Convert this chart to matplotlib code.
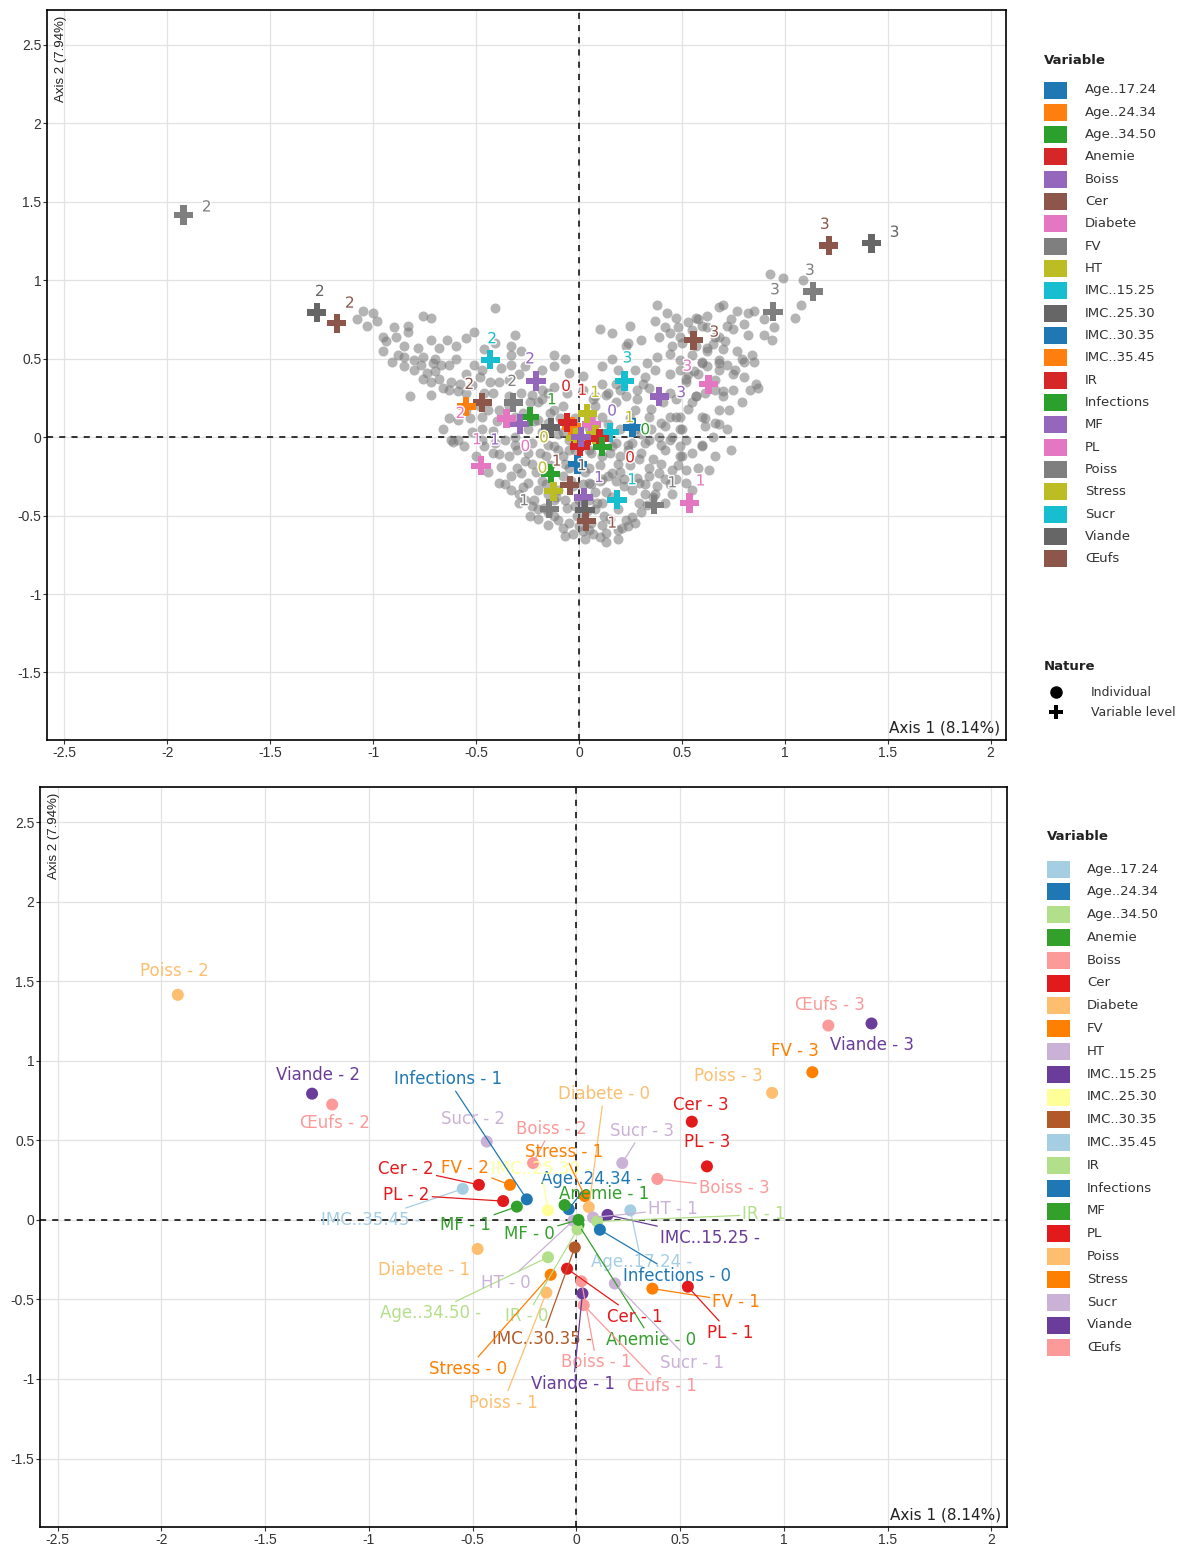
import math
import matplotlib
matplotlib.use("Agg")
import matplotlib.pyplot as plt
import matplotlib.patheffects as pe
from matplotlib.patches import Rectangle
from matplotlib.lines import Line2D
from matplotlib.text import Text
import numpy as np

plt.rcParams['font.family'] = ['Liberation Sans', 'DejaVu Sans']
WIDE = ['DejaVu Sans']

W, H = 1194, 1547

# --- variables and their palettes (top: individuals + levels, bottom: levels only)
variables = ['Age..17.24', 'Age..24.34', 'Age..34.50', 'Anemie', 'Boiss', 'Cer',
             'Diabete', 'FV', 'HT', 'IMC..15.25', 'IMC..25.30', 'IMC..30.35',
             'IMC..35.45', 'IR', 'Infections', 'MF', 'PL', 'Poiss', 'Stress',
             'Sucr', 'Viande', 'Œufs']
top_colors = ['#1F77B4', '#FF7F0E', '#2CA02C', '#D62728', '#9467BD', '#8C564B',
              '#E377C2', '#7F7F7F', '#BCBD22', '#17BECF', '#666666', '#1F77B4',
              '#FF7F0E', '#D62728', '#2CA02C', '#9467BD', '#E377C2', '#7F7F7F',
              '#BCBD22', '#17BECF', '#666666', '#8C564B']
bot_colors = ['#A6CEE3', '#1F78B4', '#B2DF8A', '#33A02C', '#FB9A99', '#E31A1C',
              '#FDBF6F', '#FF7F00', '#CAB2D6', '#6A3D9A', '#FFFF99', '#B15928',
              '#A6CEE3', '#B2DF8A', '#1F78B4', '#33A02C', '#E31A1C', '#FDBF6F',
              '#FF7F00', '#CAB2D6', '#6A3D9A', '#FB9A99']

# --- variable levels (coordinates on axes 1 and 2)
lev_var = ['Age..17.24', 'Age..24.34', 'Age..34.50', 'Anemie', 'Anemie',
           'Boiss', 'Boiss', 'Boiss', 'Cer', 'Cer', 'Cer', 'Diabete', 'Diabete',
           'FV', 'FV', 'FV', 'HT', 'HT', 'IMC..15.25', 'IMC..25.30', 'IMC..30.35',
           'IMC..35.45', 'IR', 'IR', 'Infections', 'Infections', 'MF', 'MF',
           'PL', 'PL', 'PL', 'Poiss', 'Poiss', 'Poiss', 'Stress', 'Stress',
           'Sucr', 'Sucr', 'Sucr', 'Viande', 'Viande', 'Viande', 'Œufs', 'Œufs', 'Œufs']
lev_code = ['', '', '', '0', '1',
            '1', '2', '3', '1', '2', '3', '0', '1',
            '1', '2', '3', '0', '1', '', '', '',
            '', '0', '1', '0', '1', '0', '1',
            '1', '2', '3', '1', '2', '3', '0', '1',
            '1', '2', '3', '1', '2', '3', '1', '2', '3']
lev_x = [0.26, -0.037, -0.137, 0.01, -0.057,
         0.024, -0.209, 0.39, -0.045, -0.47, 0.556, 0.06, -0.476,
         0.366, -0.32, 1.137, -0.015, 0.08, 0.15, -0.137, -0.008,
         -0.548, 0.005, 0.10, 0.113, -0.239, 0.01, -0.287,
         0.537, -0.353, 0.629, -0.145, -1.921, 0.943, -0.124, 0.04,
         0.185, -0.432, 0.221, 0.029, -1.274, 1.422, 0.035, -1.177, 1.214]
lev_y = [0.06, 0.067, -0.235, -0.03, 0.093,
         -0.386, 0.357, 0.257, -0.307, 0.22, 0.617, 0.08, -0.183,
         -0.432, 0.22, 0.928, -0.005, 0.015, 0.031, 0.06, -0.173,
         0.195, -0.06, -0.01, -0.062, 0.129, 0.0, 0.083,
         -0.42, 0.118, 0.336, -0.457, 1.414, 0.798, -0.345, 0.15,
         -0.40, 0.492, 0.357, -0.463, 0.793, 1.234, -0.536, 0.725, 1.221]

# --- individuals
ind_x = [
    # left wing
    -1.05, -1.00, -1.03, -0.98, -0.76, -0.72, -0.83, -0.83, -0.95, -0.89,
    -0.94, -0.85, -0.78, -0.72, -0.68, -0.64, -0.55, -0.51, -0.41, -0.31,
    -0.33, -0.33, -0.91, -0.85, -0.80, -0.76, -0.85, -0.77, -0.71, -0.67,
    -0.63, -0.51, -0.80, -0.74, -0.76, -0.72, -0.68, -0.62, -0.58, -0.43,
    -0.39, -0.33, -0.29, -0.82, -0.72, -0.63, -0.59, -0.55, -0.46, -0.42,
    -0.63, -0.59, -0.44, -0.39, -0.34, -0.31, -0.62, -0.47, -0.42,
    -0.95, -0.88, -0.70, -0.60, -0.55, -0.48, -0.52, -0.66, -0.70, -0.90,
    -1.08, -0.60, -0.46, -0.48, -0.53, -0.38, -0.34,
    # upper middle / right
    0.10, 0.25, 0.30, 0.38, 0.43, 0.47, 0.37, 0.42, 0.48, 0.57,
    0.60, 0.62, 0.39, 0.44, 0.49, 0.57, 0.62, 0.68, 0.68, 0.23,
    0.16, 0.33, 0.38, 0.44, 0.49, 0.55, 0.60, 0.68, -0.12, -0.07,
    0.19, 0.27, 0.32, 0.44, 0.49, 0.53, 0.52, 0.28, 0.34, 0.23,
    0.28, 0.35, 0.41, 0.47, 0.57, 0.61, 0.66, 0.44, 0.49, 0.53,
    0.61, 0.68, 0.42, 0.61, 0.68, 0.13, 0.07, -0.23, -0.18, -0.18,
    # right wing
    0.93, 0.99, 1.09, 1.08, 1.05, 0.70, 0.77, 0.82, 0.85, 0.58,
    0.53, 0.72, 0.75, 0.82, 0.90, 0.94, 0.66, 0.71, 0.65, 0.62,
    0.70, 0.77, 0.84, 0.79, 0.80, 0.85, 0.60, 0.68, 0.72, 0.75,
    0.68, 0.56, 0.87, 0.70, 0.57, 0.52,
    0.74, 0.80, 0.90, 0.95, 0.62, 0.55, 0.50, 0.45, 0.58, 0.62,
    0.75, 0.80, 0.66, 0.72, 0.65, 0.60,
    # lower blob
    -0.61, -0.46, -0.39, -0.34, -0.38, -0.33, -0.28, -0.23, -0.25, -0.20,
    -0.18, -0.15, -0.08, -0.10, -0.03, -0.07, -0.02, 0.05, 0.08, 0.11,
    0.16, 0.19, 0.23, 0.26, 0.24, 0.19, 0.13, 0.10, 0.05, 0.00,
    -0.05, -0.10, -0.15, -0.20, -0.23, -0.26, -0.29, 0.06, 0.29, 0.32,
    0.29, 0.34, 0.39, 0.42, 0.45, 0.40, 0.36, 0.42, 0.49, 0.52,
    0.49, 0.29, 0.24, 0.19, 0.16, 0.26, 0.32, 0.39, 0.27, 0.45,
    0.49, -0.07, 0.03, 0.19, 0.13, 0.42, 0.45, 0.52, 0.26, 0.22,
    0.16, 0.11, 0.05, -0.07, -0.10, -0.16, -0.23, -0.31, -0.33, -0.39,
    -0.30, -0.27, -0.22, -0.17, -0.12, -0.08, -0.03, 0.02, 0.07, 0.11,
    0.15, 0.21, 0.27, 0.30, 0.33, 0.36, 0.38, 0.34, 0.30, 0.25,
    0.22, 0.18, 0.13, 0.09, 0.04, -0.01, -0.06, -0.11, -0.16, -0.21,
    -0.26, -0.31, -0.36, -0.42, -0.47, -0.52, -0.56, -0.44, -0.36, -0.29,
    -0.24, -0.15, 0.00, 0.06, 0.10, 0.14, 0.20, 0.24, 0.28, 0.32,
    0.44, 0.48, 0.55, 0.58, 0.52, 0.40, 0.35, 0.30, 0.20, 0.14,
    0.06, -0.03, -0.09, -0.14, -0.22, -0.27, -0.24, -0.12, -0.06, 0.02,
    0.08, 0.14, 0.06, -0.02, -0.08, -0.14, -0.19, 0.03, -0.04, 0.10,
    # centre
    -0.18, -0.15, -0.20, -0.12, -0.15, -0.20, -0.25, -0.18, -0.08, -0.12,
    -0.05, 0.05, 0.11, 0.18, 0.11, 0.18, 0.20, 0.27, 0.34, 0.40,
    0.47, 0.50, 0.44, 0.34, 0.08, 0.11, 0.02, -0.05, -0.12, 0.11,
    0.18, 0.31, 0.37, 0.44, 0.55, 0.60, 0.66, 0.73, 0.70, 0.79,
    0.83, 0.86, 0.76, 0.66, 0.60, 0.74, 0.63, 0.50, 0.47, 0.37,
    0.55, -0.30, -0.41, -0.50, -0.59, -0.66, -0.55, -0.47, -0.40, -0.34,
    -0.28, -0.26, -0.28, -0.41, -0.47, 0.24, 0.16, 0.00, 0.05, -0.05,
    0.10, -0.10, 0.00, 0.05, -0.05, 0.15, -0.15, 0.02, -0.02, 0.08,
    -0.12, 0.12, -0.20, 0.20, -0.25, 0.25, -0.08,
]
ind_y = [
    0.80, 0.79, 0.71, 0.74, 0.77, 0.76, 0.71, 0.67, 0.64, 0.64,
    0.61, 0.58, 0.57, 0.62, 0.57, 0.62, 0.63, 0.67, 0.82, 0.65,
    0.58, 0.52, 0.48, 0.51, 0.49, 0.51, 0.45, 0.46, 0.47, 0.46,
    0.46, 0.46, 0.43, 0.41, 0.37, 0.35, 0.37, 0.35, 0.34, 0.35,
    0.35, 0.46, 0.40, 0.26, 0.27, 0.30, 0.29, 0.28, 0.28, 0.28,
    0.12, 0.11, 0.17, 0.17, 0.20, 0.13, -0.02, 0.05, 0.04,
    0.55, 0.52, 0.50, 0.50, 0.40, 0.38, 0.33, 0.31, 0.42, 0.70,
    0.75, 0.58, 0.56, 0.20, 0.12, 0.44, 0.36,
    0.69, 0.71, 0.62, 0.84, 0.79, 0.76, 0.74, 0.70, 0.70, 0.76,
    0.71, 0.77, 0.64, 0.66, 0.64, 0.58, 0.57, 0.64, 0.83, 0.58,
    0.50, 0.47, 0.51, 0.53, 0.49, 0.52, 0.47, 0.49, 0.52, 0.50,
    0.43, 0.43, 0.38, 0.40, 0.43, 0.40, 0.35, 0.30, 0.31, 0.26,
    0.24, 0.18, 0.22, 0.24, 0.26, 0.28, 0.30, 0.13, 0.13, 0.18,
    0.12, 0.17, 0.07, 0.07, 0.08, 0.27, 0.24, 0.27, 0.24, 0.30,
    1.04, 1.01, 1.00, 0.84, 0.76, 0.84, 0.80, 0.79, 0.80, 0.75,
    0.73, 0.71, 0.69, 0.65, 0.65, 0.62, 0.64, 0.61, 0.59, 0.55,
    0.56, 0.55, 0.52, 0.50, 0.48, 0.48, 0.48, 0.47, 0.46, 0.40,
    0.43, 0.42, 0.31, 0.29, 0.26, 0.37,
    0.75, 0.72, 0.75, 0.70, 0.70, 0.68, 0.60, 0.58, 0.40, 0.45,
    0.30, 0.38, 0.36, 0.05, 0.00, -0.05,
    -0.03, -0.06, -0.11, -0.12, -0.19, -0.25, -0.23, -0.17, -0.29, -0.34,
    -0.28, -0.36, -0.25, -0.34, -0.31, -0.40, -0.44, -0.40, -0.46, -0.42,
    -0.38, -0.46, -0.53, -0.51, -0.57, -0.59, -0.61, -0.64, -0.59, -0.57,
    -0.55, -0.53, -0.48, -0.46, -0.44, -0.40, -0.36, -0.55, -0.42, -0.36,
    -0.29, -0.25, -0.23, -0.27, -0.21, -0.17, -0.14, -0.08, -0.12, -0.21,
    -0.06, -0.14, -0.08, -0.17, -0.06, -0.04, -0.04, 0.00, 0.05, 0.00,
    0.05, -0.63, -0.65, -0.65, -0.67, -0.42, -0.36, -0.29, -0.34, -0.27,
    -0.23, -0.27, -0.29, -0.17, -0.08, -0.12, -0.04, 0.00, -0.34, -0.29,
    -0.20, -0.32, -0.40, -0.45, -0.50, -0.58, -0.62, -0.60, -0.62, -0.56,
    -0.52, -0.58, -0.55, -0.48, -0.43, -0.38, -0.31, -0.20, -0.10, -0.18,
    -0.31, -0.28, -0.35, -0.42, -0.47, -0.50, -0.45, -0.38, -0.30, -0.22,
    -0.15, -0.05, -0.02, -0.10, -0.02, 0.03, -0.06, -0.22, -0.30, -0.42,
    -0.50, -0.56, -0.40, -0.30, -0.18, -0.25, -0.12, -0.05, -0.26, -0.30,
    -0.30, -0.18, -0.10, -0.20, -0.02, -0.05, 0.05, 0.02, 0.05, 0.08,
    0.12, 0.08, 0.12, 0.15, 0.10, 0.15, 0.22, 0.32, 0.28, 0.30,
    0.20, 0.28, -0.10, -0.08, -0.12, -0.18, -0.10, -0.22, -0.28, -0.28,
    0.43, 0.28, 0.22, 0.17, 0.09, 0.11, 0.05, 0.03, 0.03, -0.06,
    -0.08, -0.08, -0.12, -0.04, 0.13, 0.22, 0.30, 0.17, 0.13, 0.09,
    0.13, 0.05, -0.02, -0.02, 0.26, 0.34, 0.39, 0.41, 0.45, 0.45,
    0.34, 0.34, 0.43, 0.28, 0.22, 0.13, 0.09, 0.17, 0.26, 0.22,
    0.30, 0.34, 0.43, -0.12, -0.06, -0.08, -0.21, -0.12, -0.27, -0.36,
    -0.34, -0.08, -0.04, -0.12, -0.02, 0.05, 0.17, 0.13, 0.10, 0.26,
    0.28, 0.45, 0.55, 0.60, 0.43, 0.60, 0.66, 0.02, 0.06, -0.02,
    0.01, 0.02, -0.15, -0.20, -0.20, -0.10, -0.05, -0.30, 0.12, -0.35,
    -0.40, -0.50, -0.52, -0.22, -0.10, 0.12, 0.20,
]

# label placement (pixel offsets from the point, ggrepel-like)
top_lab_off = {
    'Poiss - 2': (23, 8), 'Viande - 2': (3, 21), 'Œufs - 2': (13, 20),
    'Œufs - 3': (-4, 21), 'Viande - 3': (23, 11), 'FV - 3': (-3, 21),
    'Poiss - 3': (2, 22), 'Cer - 3': (21, 8), 'PL - 3': (-21, 18),
    'Boiss - 3': (22, 4), 'Sucr - 3': (3, 23), 'Sucr - 2': (2, 21),
    'Boiss - 2': (-6, 22), 'FV - 2': (-1, 21), 'Cer - 2': (-13, 18),
    'PL - 2': (-46, 5), 'MF - 1': (-25, -16), 'Infections - 1': (22, 17),
    'IR - 0': (-14, 60), 'Anemie - 1': (15, 32), 'Stress - 1': (8, 21),
    'MF - 0': (31, 26), 'HT - 1': (34, 17), 'Infections - 0': (43, 17),
    'Boiss - 1': (15, 20), 'Cer - 1': (-13, 24), 'HT - 0': (-32, 0),
    'Stress - 0': (-11, 23), 'Viande - 1': (-3, 44), 'Œufs - 1': (26, -2),
    'Diabete - 0': (-66, -22), 'Anemie - 0': (49, -16), 'Diabete - 1': (-4, 26),
    'PL - 1': (11, 22), 'FV - 1': (18, 22), 'Sucr - 1': (15, 20),
    'Poiss - 1': (-25, 8),
}
bot_lab_off = {
    'Poiss - 2': (-3, 24), 'Viande - 2': (6, 19), 'Œufs - 2': (3, -19),
    'Œufs - 3': (2, 21), 'Viande - 3': (1, -22), 'FV - 3': (-17, 21),
    'Poiss - 3': (-44, 17), 'Cer - 3': (9, 17), 'PL - 3': (0, 24),
    'Boiss - 3': (77, -9), 'Sucr - 3': (20, 32), 'Sucr - 2': (-14, 23),
    'Boiss - 2': (18, 34), 'Infections - 1': (-79, 120), 'Diabete - 0': (15, 113),
    'Stress - 1': (-21, 44), 'IMC..25.30 -': (-7, 41), 'Cer - 2': (-73, 16),
    'FV - 2': (-45, 17), 'PL - 2': (-97, 6), 'IMC..35.45 -': (-92, -31),
    'MF - 1': (-51, -18), 'MF - 0': (-49, -14), 'Age..24.34 -': (23, 30),
    'Anemie - 1': (40, 11), 'HT - 1': (80, 8), 'IR - 1': (167, 7),
    'IMC..15.25 -': (102, -23), 'Age..17.24 -': (11, -52),
    'Infections - 0': (77, -46), 'Diabete - 1': (-54, -21), 'HT - 0': (-67, -62),
    'Age..34.50 -': (-117, -56), 'IR - 0': (-51, -87), 'Cer - 1': (68, -48),
    'FV - 1': (84, -13), 'PL - 1': (42, -46), 'IMC..30.35 -': (-33, -92),
    'Anemie - 0': (73, -115), 'Boiss - 1': (15, -81), 'Sucr - 1': (77, -79),
    'Stress - 0': (-83, -94), 'Viande - 1': (-9, -90), 'Œufs - 1': (78, -81),
    'Poiss - 1': (-43, -110),
}

top_col = dict(zip(variables, top_colors))
bot_col = dict(zip(variables, bot_colors))
labels = [(v + ' - ' + c).rstrip() for v, c in zip(lev_var, lev_code)]


def setup_axes(ax):
    ax.set_xlim(-2.585, 2.075)
    ax.set_ylim(-1.93, 2.72)
    xt = np.arange(-2.5, 2.01, 0.5)
    yt = np.arange(-1.5, 2.51, 0.5)
    ax.set_xticks(xt)
    ax.set_yticks(yt)
    ax.set_xticklabels([f'{v:g}' for v in xt])
    ax.set_yticklabels([f'{v:g}' for v in yt])
    ax.grid(color='#e2e2e2', lw=0.9)
    ax.set_axisbelow(True)
    ax.axhline(0, color='black', lw=1.1, ls=(0, (4, 4)), zorder=1)
    ax.axvline(0, color='black', lw=1.1, ls=(0, (4, 4)), zorder=1)
    for s in ax.spines.values():
        s.set_linewidth(1.2)
        s.set_color('black')
    ax.tick_params(length=3, width=0.8, pad=1, labelsize=10, colors='#333333')
    ax.text(0.994, 0.006, 'Axis 1 (8.14%)', transform=ax.transAxes, family=WIDE,
            ha='right', va='bottom', fontsize=11, color='#222222')
    ax.text(0.008, 0.992, 'Axis 2 (7.94%)', transform=ax.transAxes, rotation=90,
            ha='left', va='top', fontsize=9.5, color='#222222')


fig = plt.figure(figsize=(W / 100, H / 100), dpi=100)
ax1 = fig.add_axes([47 / W, 1 - 740 / H, 959 / W, 730 / H])
ax2 = fig.add_axes([40 / W, 1 - 1527 / H, 967 / W, 740 / H])
setup_axes(ax1)
setup_axes(ax2)

# top panel: individuals + variable levels
ax1.scatter(ind_x, ind_y, s=52, color='#777777', alpha=0.55, lw=0, zorder=2)
ax1.scatter(lev_x, lev_y, s=190, marker='P', lw=0,
            color=[top_col[v] for v in lev_var], zorder=3)
for lab, v, c, x, y in zip(labels, lev_var, lev_code, lev_x, lev_y):
    if not c or lab not in top_lab_off:
        continue
    ax1.annotate(c, (x, y), xytext=top_lab_off[lab], textcoords='offset pixels',
                 ha='center', va='center', fontsize=11, color=top_col[v], zorder=4,
                 family=WIDE,
                 path_effects=[pe.withStroke(linewidth=2, foreground='white')])

# bottom panel: variable levels with repelled labels
ax2.scatter(lev_x, lev_y, s=75, color=[bot_col[v] for v in lev_var], lw=0, zorder=3)
anns = []
for lab, v, x, y in zip(labels, lev_var, lev_x, lev_y):
    dx, dy = bot_lab_off[lab]
    a = ax2.annotate(lab, (x, y), xytext=(dx, dy), textcoords='offset pixels',
                     ha='center', va='center', fontsize=12, color=bot_col[v],
                     zorder=4, family=WIDE,
                     arrowprops=dict(arrowstyle='-', color=bot_col[v], lw=0.9,
                                     shrinkA=0, shrinkB=4))
    anns.append((a, x, y))


def draw_legend(x0, y_title, y_first, step, cols, text_dx):
    fig.text(x0 / W, 1 - y_title / H, 'Variable', fontweight='bold', fontsize=9.5,
             va='center', ha='left', color='#222222', family=WIDE)
    for i, v in enumerate(variables):
        yc = y_first + i * step
        fig.add_artist(Rectangle((x0 / W, 1 - (yc + 8.5) / H), 23 / W, 17 / H,
                                 transform=fig.transFigure, facecolor=cols[v],
                                 edgecolor='none'))
        fig.text((x0 + text_dx) / W, 1 - yc / H, v, fontsize=9.5, va='center',
                 ha='left', color='#333333', family=WIDE)


draw_legend(1044, 60, 90, 22.33, top_col, 41)
draw_legend(1047, 837, 869, 22.8, bot_col, 40)

# nature legend
fig.text(1044 / W, 1 - 667 / H, 'Nature', fontweight='bold', fontsize=9.5,
         va='center', ha='left', color='#222222', family=WIDE)
fig.add_artist(Line2D([1056 / W], [1 - 692 / H], marker='o', ms=8, color='black',
                      lw=0, transform=fig.transFigure))
fig.add_artist(Line2D([1056 / W], [1 - 712 / H], marker='P', ms=10, color='black',
                      lw=0, mew=0, transform=fig.transFigure))
fig.text(1091 / W, 1 - 693 / H, 'Individual', fontsize=9, va='center',
         color='#333333', family=WIDE)
fig.text(1091 / W, 1 - 713 / H, 'Variable level', fontsize=9, va='center',
         color='#333333', family=WIDE)

# hide connector segments for labels that sit next to their point
fig.canvas.draw()
rend = fig.canvas.get_renderer()
for a, x, y in anns:
    bb = Text.get_window_extent(a, rend)
    px, py = ax2.transData.transform((x, y))
    gx = max(bb.x0 - px, 0, px - bb.x1)
    gy = max(bb.y0 - py, 0, py - bb.y1)
    if math.hypot(gx, gy) < 16:
        a.arrow_patch.set_visible(False)

fig.savefig('out.png', dpi=100)
